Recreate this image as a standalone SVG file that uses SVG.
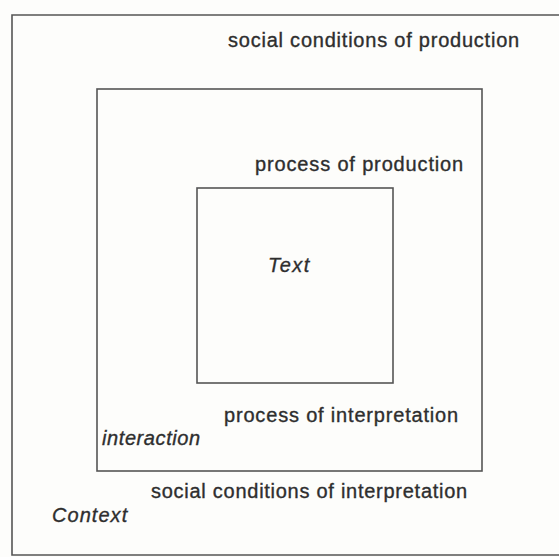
<svg xmlns="http://www.w3.org/2000/svg" width="559" height="557" viewBox="0 0 559 557">
<style>
.box{fill:none;stroke:#555;stroke-width:1.6}
.t{font-family:"Liberation Sans",Arial,sans-serif;font-size:20px;letter-spacing:0.8px;fill:#2e2e2e;stroke:#2e2e2e;stroke-width:0.35}
.i{font-style:italic}
</style>
<rect x="0" y="0" width="559" height="557" fill="#fdfdfb"/>
<g id="context">
<path class="box" d="M562 15 H12 V555 H562"/>
<text class="t" x="228" y="47" textLength="292">social conditions of production</text>
<text class="t" x="151" y="498" textLength="317">social conditions of interpretation</text>
<text class="t i" x="52" y="522" textLength="76">Context</text>
</g>
<g id="interaction">
<rect class="box" x="97" y="89" width="385" height="382"/>
<text class="t" x="255" y="171" textLength="209">process of production</text>
<text class="t" x="224" y="422" textLength="235">process of interpretation</text>
<text class="t i" x="102" y="445" textLength="99">interaction</text>
</g>
<g id="text">
<rect class="box" x="197" y="188" width="196" height="195"/>
<text class="t i" x="268" y="272" textLength="42">Text</text>
</g>
</svg>
